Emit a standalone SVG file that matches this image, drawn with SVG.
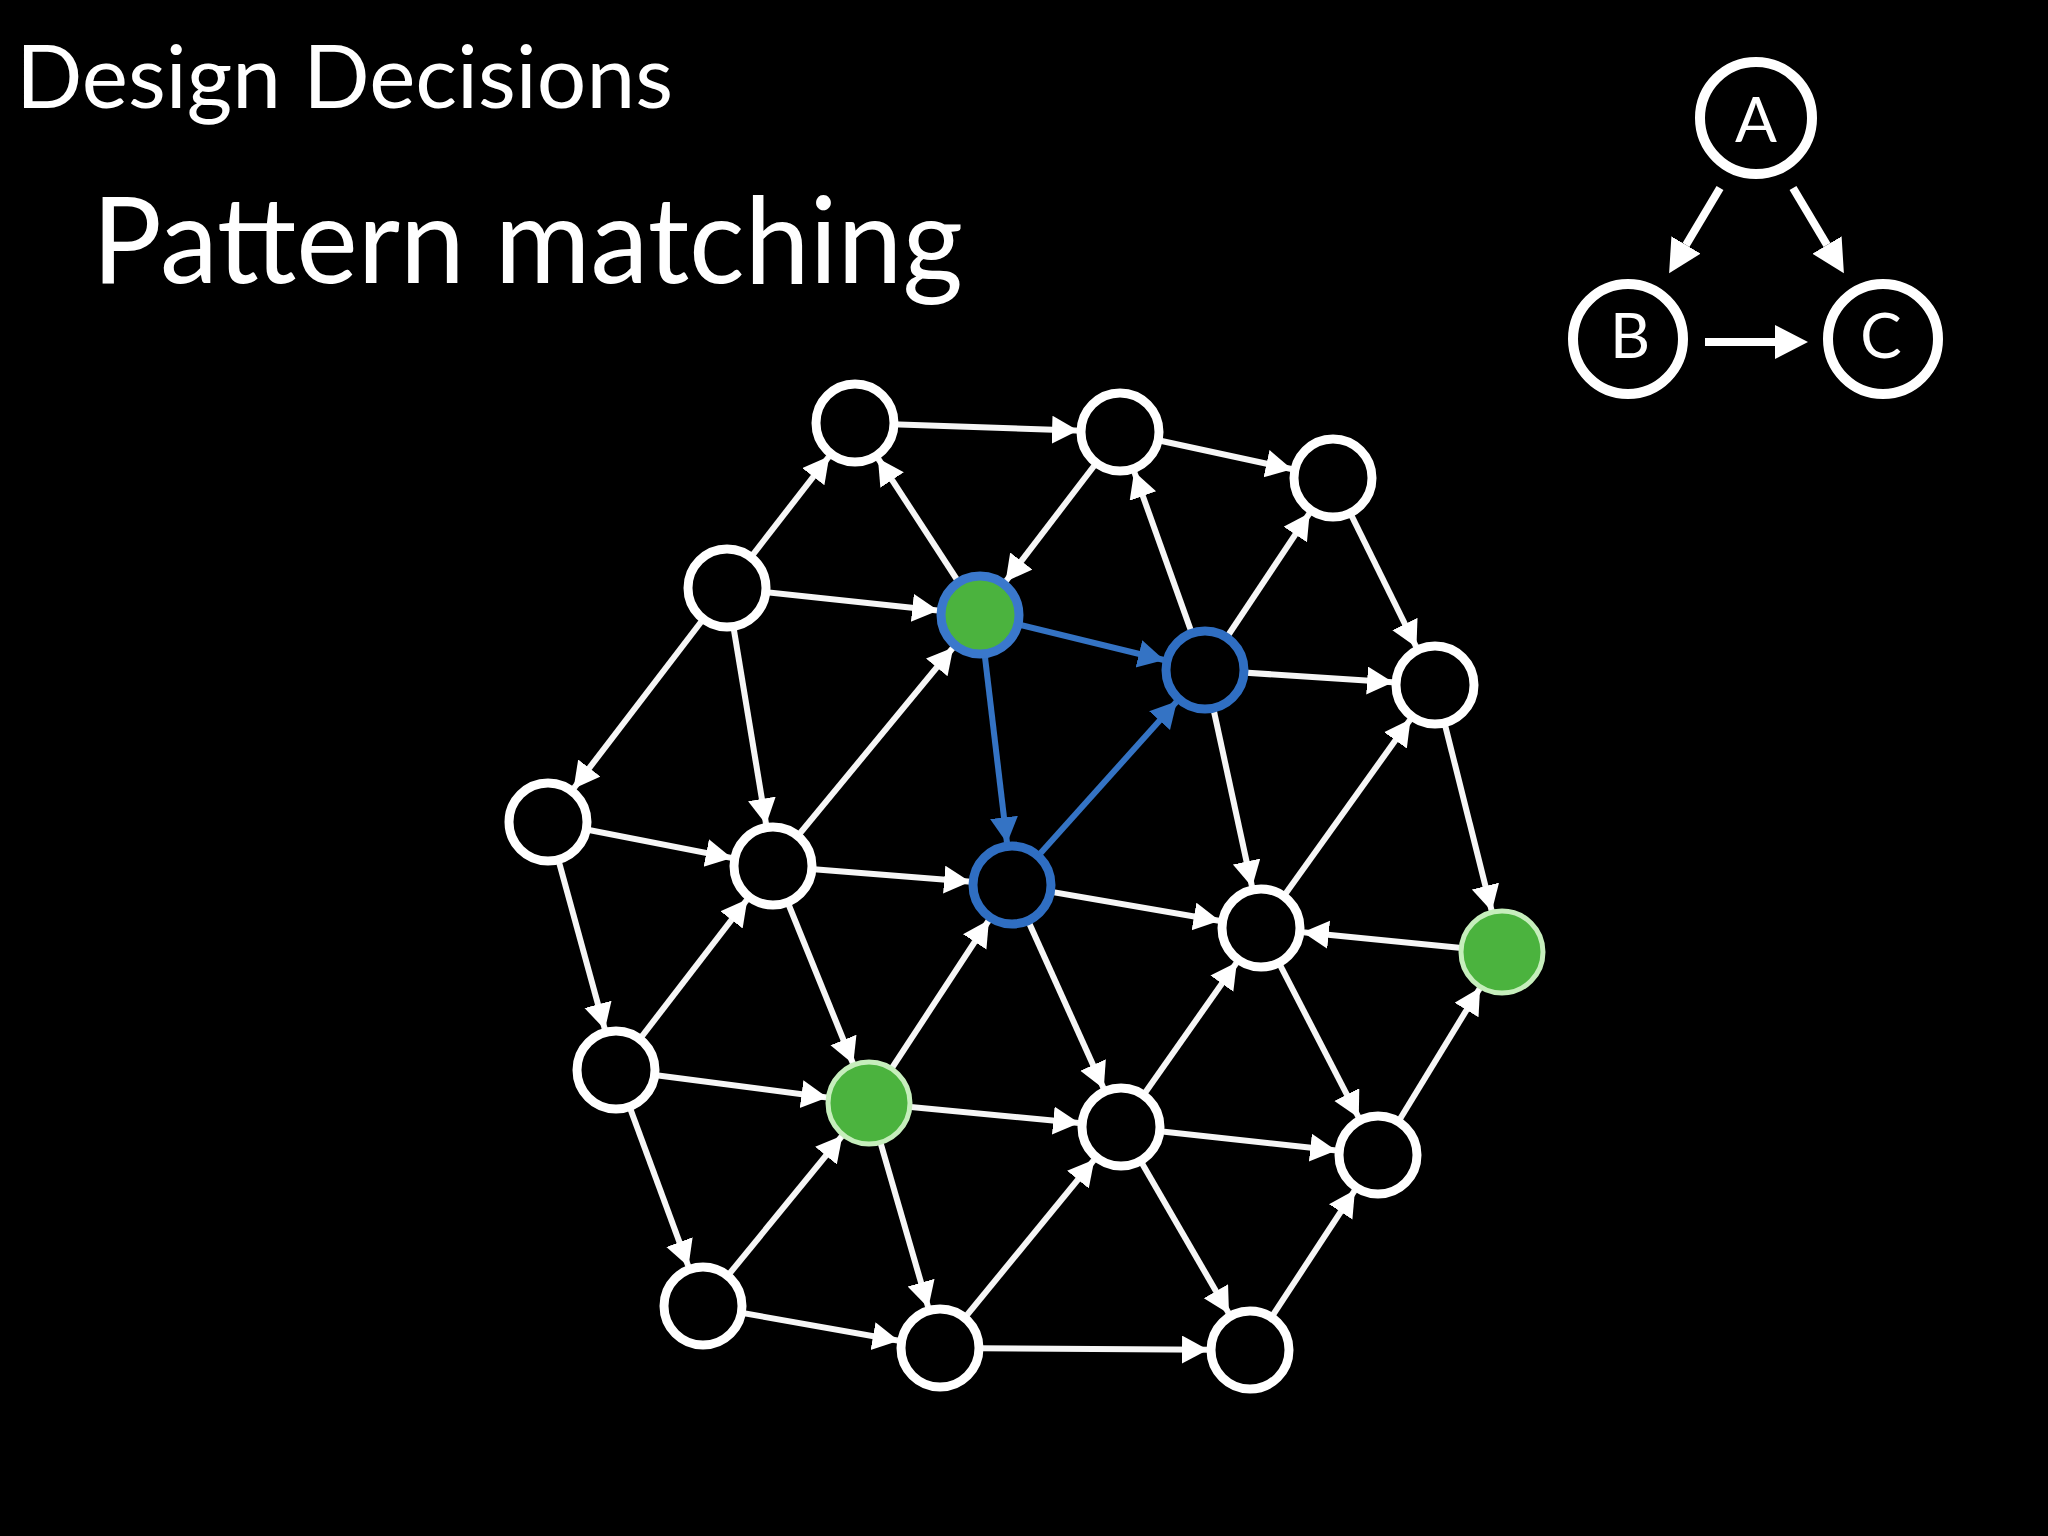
<svg xmlns="http://www.w3.org/2000/svg" width="2048" height="1536" viewBox="0 0 2048 1536">
<defs>
<style>
.title{font-family:Lato,"Open Sans","Liberation Sans",sans-serif;fill:#fff}
.e{stroke:#f6f6f6;stroke-width:6;fill:none}
.eb{stroke:#3473c4;stroke-width:6;fill:none}
.n{fill:#000;stroke:#fff;stroke-width:9}
.nb{fill:#000;stroke:#2f6ec2;stroke-width:9}
.ng{fill:#4bb33e;stroke:#c6eebc;stroke-width:5}
.ngb{fill:#4bb33e;stroke:#3a78cc;stroke-width:9}
.pn{fill:#000;stroke:#fff;stroke-width:10}
.pe{stroke:#fff;stroke-width:8;fill:none}
.pl{font-family:Lato,"Open Sans","Liberation Sans",sans-serif;font-size:62px;fill:#fff;text-anchor:middle}
</style>
<marker id="aw" markerUnits="userSpaceOnUse" markerWidth="32" markerHeight="32" refX="68" refY="14" orient="auto">
<path d="M0,0 L26,14 L0,28 z" fill="#fff"/>
</marker>
<marker id="ab" markerUnits="userSpaceOnUse" markerWidth="32" markerHeight="32" refX="68" refY="14" orient="auto">
<path d="M0,0 L26,14 L0,28 z" fill="#3473c4"/>
</marker>
<marker id="ap" markerUnits="userSpaceOnUse" markerWidth="36" markerHeight="36" refX="0" refY="17" orient="auto">
<path d="M0,0 L33,17 L0,34 z" fill="#fff"/>
</marker>
</defs>
<rect width="2048" height="1536" fill="#000"/>

<text class="title" x="16" y="108" font-size="88" textLength="657" lengthAdjust="spacingAndGlyphs">Design Decisions</text>
<text class="title" x="92" y="283" font-size="120" textLength="871" lengthAdjust="spacingAndGlyphs">Pattern matching</text>

<g id="connectors">
<line class="e" marker-end="url(#aw)" x1="855" y1="423" x2="1120" y2="432"/>
<line class="e" marker-end="url(#aw)" x1="1120" y1="432" x2="1333" y2="478"/>
<line class="e" marker-end="url(#aw)" x1="727" y1="588" x2="855" y2="423"/>
<line class="e" marker-end="url(#aw)" x1="980" y1="615" x2="855" y2="423"/>
<line class="e" marker-end="url(#aw)" x1="1120" y1="432" x2="980" y2="615"/>
<line class="e" marker-end="url(#aw)" x1="1205" y1="670" x2="1120" y2="432"/>
<line class="e" marker-end="url(#aw)" x1="1205" y1="670" x2="1333" y2="478"/>
<line class="e" marker-end="url(#aw)" x1="1333" y1="478" x2="1435" y2="685"/>
<line class="e" marker-end="url(#aw)" x1="727" y1="588" x2="980" y2="615"/>
<line class="e" marker-end="url(#aw)" x1="1205" y1="670" x2="1435" y2="685"/>
<line class="e" marker-end="url(#aw)" x1="727" y1="588" x2="548" y2="822"/>
<line class="e" marker-end="url(#aw)" x1="727" y1="588" x2="773" y2="866"/>
<line class="e" marker-end="url(#aw)" x1="773" y1="866" x2="980" y2="615"/>
<line class="e" marker-end="url(#aw)" x1="1205" y1="670" x2="1261" y2="928"/>
<line class="e" marker-end="url(#aw)" x1="1261" y1="928" x2="1435" y2="685"/>
<line class="e" marker-end="url(#aw)" x1="1435" y1="685" x2="1502" y2="952"/>
<line class="e" marker-end="url(#aw)" x1="548" y1="822" x2="773" y2="866"/>
<line class="e" marker-end="url(#aw)" x1="773" y1="866" x2="1012" y2="885"/>
<line class="e" marker-end="url(#aw)" x1="1012" y1="885" x2="1261" y2="928"/>
<line class="e" marker-end="url(#aw)" x1="1502" y1="952" x2="1261" y2="928"/>
<line class="e" marker-end="url(#aw)" x1="548" y1="822" x2="616" y2="1070"/>
<line class="e" marker-end="url(#aw)" x1="616" y1="1070" x2="773" y2="866"/>
<line class="e" marker-end="url(#aw)" x1="773" y1="866" x2="869" y2="1103"/>
<line class="e" marker-end="url(#aw)" x1="869" y1="1103" x2="1012" y2="885"/>
<line class="e" marker-end="url(#aw)" x1="1012" y1="885" x2="1121" y2="1127"/>
<line class="e" marker-end="url(#aw)" x1="1121" y1="1127" x2="1261" y2="928"/>
<line class="e" marker-end="url(#aw)" x1="1261" y1="928" x2="1378" y2="1155"/>
<line class="e" marker-end="url(#aw)" x1="1378" y1="1155" x2="1502" y2="952"/>
<line class="e" marker-end="url(#aw)" x1="616" y1="1070" x2="869" y2="1103"/>
<line class="e" marker-end="url(#aw)" x1="869" y1="1103" x2="1121" y2="1127"/>
<line class="e" marker-end="url(#aw)" x1="1121" y1="1127" x2="1378" y2="1155"/>
<line class="e" marker-end="url(#aw)" x1="616" y1="1070" x2="703" y2="1306"/>
<line class="e" marker-end="url(#aw)" x1="703" y1="1306" x2="869" y2="1103"/>
<line class="e" marker-end="url(#aw)" x1="869" y1="1103" x2="940" y2="1348"/>
<line class="e" marker-end="url(#aw)" x1="940" y1="1348" x2="1121" y2="1127"/>
<line class="e" marker-end="url(#aw)" x1="1121" y1="1127" x2="1250" y2="1350"/>
<line class="e" marker-end="url(#aw)" x1="1250" y1="1350" x2="1378" y2="1155"/>
<line class="e" marker-end="url(#aw)" x1="703" y1="1306" x2="940" y2="1348"/>
<line class="e" marker-end="url(#aw)" x1="940" y1="1348" x2="1250" y2="1350"/>
<line class="eb" marker-end="url(#ab)" x1="980" y1="615" x2="1205" y2="670"/>
<line class="eb" marker-end="url(#ab)" x1="980" y1="615" x2="1012" y2="885"/>
<line class="eb" marker-end="url(#ab)" x1="1012" y1="885" x2="1205" y2="670"/>
<line class="pe" marker-end="url(#ap)" x1="1720" y1="188" x2="1686" y2="245"/>
<line class="pe" marker-end="url(#ap)" x1="1793" y1="188" x2="1827" y2="245"/>
<line class="pe" marker-end="url(#ap)" x1="1705" y1="342" x2="1775" y2="342"/>
</g>

<g id="n1"><circle class="n" cx="855" cy="423" r="39"/></g>
<g id="n2"><circle class="n" cx="1120" cy="432" r="39"/></g>
<g id="n3"><circle class="n" cx="1333" cy="478" r="39"/></g>
<g id="n4"><circle class="n" cx="727" cy="588" r="39"/></g>
<g id="n5"><circle class="ngb" cx="980" cy="615" r="39"/></g>
<g id="n6"><circle class="nb" cx="1205" cy="670" r="39"/></g>
<g id="n7"><circle class="n" cx="1435" cy="685" r="39"/></g>
<g id="n8"><circle class="n" cx="548" cy="822" r="39"/></g>
<g id="n9"><circle class="n" cx="773" cy="866" r="39"/></g>
<g id="n10"><circle class="nb" cx="1012" cy="885" r="39"/></g>
<g id="n11"><circle class="n" cx="1261" cy="928" r="39"/></g>
<g id="n12"><circle class="ng" cx="1502" cy="952" r="41"/></g>
<g id="n13"><circle class="n" cx="616" cy="1070" r="39"/></g>
<g id="n14"><circle class="ng" cx="869" cy="1103" r="41"/></g>
<g id="n15"><circle class="n" cx="1121" cy="1127" r="39"/></g>
<g id="n16"><circle class="n" cx="1378" cy="1155" r="39"/></g>
<g id="n17"><circle class="n" cx="703" cy="1306" r="39"/></g>
<g id="n18"><circle class="n" cx="940" cy="1348" r="39"/></g>
<g id="n19"><circle class="n" cx="1250" cy="1350" r="39"/></g>

<g id="pA"><circle class="pn" cx="1756" cy="118" r="56"/><text class="pl" x="1756" y="142">A</text></g>
<g id="pB"><circle class="pn" cx="1628" cy="339" r="55"/><text class="pl" x="1630" y="358">B</text></g>
<g id="pC"><circle class="pn" cx="1883" cy="339" r="55"/><text class="pl" x="1881" y="358">C</text></g>
</svg>
